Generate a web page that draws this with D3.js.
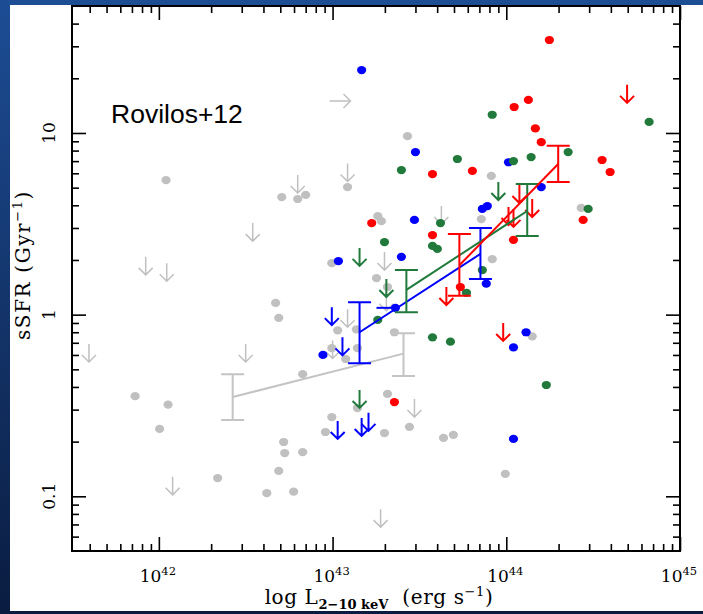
<!DOCTYPE html>
<html><head><meta charset="utf-8">
<script src="https://cdn.jsdelivr.net/npm/d3@7"></script>
<style>html,body{margin:0;padding:0;background:#fff;} svg{display:block}</style>
</head><body><svg id="c" width="703" height="614"></svg>
<script>
// ---- data: [L_2-10keV (erg/s), sSFR (Gyr^-1)] ----
const grayDots = [[1.10e42,5.5],[4.7e42,1.16],[4.9e42,0.96],[5.1e42,4.44],[6.3e42,4.33],[7.0e42,4.56],
 [7.3e41,0.356],[1.13e42,0.32],[1.01e42,0.235],[2.18e42,0.126],[4.18e42,0.104],[5.97e42,0.106],
 [4.9e42,0.138],[5.23e42,0.199],[5.3e42,0.173],[6.73e42,0.175],[9.1e42,0.226],[9.9e42,0.273],
 [6.73e42,0.47],[9.9e42,1.92],[1.07e43,0.82],[1.37e43,0.83],[9.9e42,0.655],[1.39e43,0.655],
 [1.19e43,0.57],[1.39e43,0.306],[1.79e43,1.59],[2.27e43,0.80],[2.07e43,0.366],[1.99e43,0.223],
 [2.77e43,0.241],[4.35e43,0.21],[4.96e43,0.218],[2.70e43,9.6],[1.22e43,5.04],[1.82e43,3.49],
 [1.91e43,3.27],[7.18e43,3.36],[8.2e43,5.8],[8.3e43,2.02],[1.41e44,0.76],[2.70e44,3.87],
 [9.87e43,0.133],[2.07e43,1.42]];
const grayLimits = [[3.96e41,0.69],[8.4e41,2.08],[1.11e42,1.92],[3.16e42,0.69],[1.2e42,0.128],
 [3.47e42,3.19],[6.3e42,5.87],[1.22e43,6.8],[4.23e43,3.96],[1.99e43,2.21],[1.22e43,1.07],
 [1.0e43,0.72],[2.96e43,0.343],[1.89e43,0.085],[2.04e43,1.32]];
const grayLowerL = [[9.6e42,15.0]];
const blueDots = [[1.47e43,22.2],[3.0e43,7.85],[2.96e43,3.32],[2.49e43,2.08],[1.08e43,1.97],
 [8.8e42,0.60],[2.30e43,1.09],[1.03e44,6.9],[1.59e44,5.04],[7.28e43,3.82],[7.78e43,3.96],
 [7.67e43,1.48],[1.30e44,0.80],[1.10e44,0.66],[1.10e44,0.207]];
const blueLimits = [[9.9e42,1.10],[1.14e43,0.75],[1.07e43,0.26],[1.47e43,0.27],[1.61e43,0.288]];
const blueBar = [[1.79e43,2.30e43,1.09]];
const greenDots = [[8.3e43,12.6],[2.49e43,6.25],[5.23e43,7.19],[1.39e44,7.37],[1.10e44,7.0],
 [2.27e44,7.85],[6.64e44,11.5],[2.96e44,3.82],[1.99e43,2.51],[3.76e43,2.39],[4.01e43,2.30],
 [4.18e43,3.19],[1.82e43,0.935],[3.76e43,0.75],[4.77e43,0.71],[1.70e44,0.41],[7.28e43,1.76],
 [5.9e43,1.32]];
const greenLimits = [[1.43e43,2.33],[2.04e43,1.57],[1.43e43,0.385],[9.0e43,5.37]];
const redDots = [[1.77e44,32.5],[1.34e44,15.2],[1.11e44,13.9],[1.47e44,10.6],[1.59e44,8.9],
 [6.38e43,6.18],[3.56e44,7.1],[3.96e44,6.1],[3.76e43,5.94],[1.68e43,3.19],[3.76e43,2.74],
 [1.10e44,2.58],[2.77e44,3.32],[5.44e43,1.42],[2.27e43,0.33]];
const redLimits = [[4.96e44,18.4],[1.19e44,5.17],[1.41e44,4.33],[1.03e44,3.91],[1.10e44,3.82],
 [4.52e43,1.42],[9.6e43,0.90]];
// binned means: [L, mean, low, high]
const grayBins  = [[2.66e42,0.352,0.263,0.47],[2.56e43,0.61,0.46,0.79]];
const blueBins  = [[1.43e43,0.80,0.54,1.17],[7.1e43,2.16,1.57,3.0]];
const greenBins = [[2.66e43,1.37,1.03,1.76],[1.32e44,3.72,2.71,5.24]];
const redBins   = [[5.37e43,1.87,1.27,2.78],[1.99e44,6.75,5.37,8.5]];
const xMajor = [1e42,1e43,1e44,1e45];
const xMajorLabels = ["42","43","44","45"];
const yMajor = [0.1,1,10];
const yMajorLabels = ["0.1","1","10"];

// ---- layout ----
const W=703,H=614, L=72, R=680, T=6, B=551;
const svg=d3.select('#c');
const defs=svg.append('defs');
const gr=defs.append('linearGradient').attr('id','bg').attr('x1',0).attr('y1',0).attr('x2',0).attr('y2',1);
gr.append('stop').attr('offset','0%').attr('stop-color','#1d4d95');
gr.append('stop').attr('offset','100%').attr('stop-color','#0a1c40');
svg.append('rect').attr('width',W).attr('height',H).attr('fill','url(#bg)');
svg.append('rect').attr('x',10).attr('y',5).attr('width',W-10).attr('height',606).attr('fill','#fff');

const x=d3.scaleLog().domain([Math.pow(10,41.5),1e45]).range([L,R]);
const y=d3.scaleLog().domain([0.05,50]).range([B,T]);

const minor=(dom)=>{const out=[];const lo=Math.floor(Math.log10(dom[0])),hi=Math.ceil(Math.log10(dom[1]));
 for(let e=lo;e<hi;e++)for(let k=2;k<=9;k++){const v=k*Math.pow(10,e);if(v>dom[0]&&v<dom[1])out.push(v);}return out;};
const xMinor=minor(x.domain()), yMinor=minor(y.domain());

const axG=svg.append('g').attr('stroke','#000');
function ax(gen,tr,vals,size){
  const g=axG.append('g').attr('transform',tr).call(gen.tickValues(vals).tickSize(size).tickFormat('').tickSizeOuter(0));
  g.select('.domain').remove();
  g.selectAll('line').attr('stroke','#000').attr('stroke-width',1.6);
}
ax(d3.axisBottom(x),`translate(0,${B})`,xMinor,-7);
ax(d3.axisBottom(x),`translate(0,${B})`,xMajor,-14);
ax(d3.axisTop(x),`translate(0,${T})`,xMinor,-7);
ax(d3.axisTop(x),`translate(0,${T})`,xMajor,-14);
ax(d3.axisLeft(y),`translate(${L},0)`,yMinor,-7);
ax(d3.axisLeft(y),`translate(${L},0)`,yMajor,-14);
ax(d3.axisRight(y),`translate(${R},0)`,yMinor,-7);
ax(d3.axisRight(y),`translate(${R},0)`,yMajor,-14);
svg.append('rect').attr('x',L).attr('y',T).attr('width',R-L).attr('height',B-T)
  .attr('fill','none').attr('stroke','#000').attr('stroke-width',2);

// tick labels
const serif="'DejaVu Serif','Liberation Serif',serif";
xMajor.forEach((v,i)=>{
  const t=svg.append('text').attr('x',x(v)-1).attr('y',582).attr('text-anchor','middle')
   .attr('font-family',serif).attr('font-size',17).attr('fill','#000');
  t.append('tspan').text('10');
  t.append('tspan').attr('dy',-7).attr('font-size',11.5).text(xMajorLabels[i]);
});
yMajor.forEach((v,i)=>{
  svg.append('text').attr('transform',`translate(55,${y(v)}) rotate(-90)`).attr('text-anchor','middle')
   .attr('font-family',serif).attr('font-size',17).attr('fill','#000').text(yMajorLabels[i]);
});
// axis titles
const xt=svg.append('text').attr('x',379).attr('y',604).attr('text-anchor','middle')
  .attr('font-family',serif).attr('font-size',20).attr('letter-spacing',0.6).attr('fill','#000');
xt.append('tspan').text('log L');
xt.append('tspan').attr('dy',5).attr('font-size',13).attr('font-weight','bold').attr('letter-spacing',0).text('2−10 keV');
xt.append('tspan').attr('dy',-5).text('\u00a0 (erg s');
xt.append('tspan').attr('dy',-8).attr('font-size',13).text('−1');
xt.append('tspan').attr('dy',8).text(')');
const yt=svg.append('text').attr('transform',`translate(30,265) rotate(-90)`).attr('text-anchor','middle')
  .attr('font-family',serif).attr('font-size',20).attr('letter-spacing',1.6).attr('fill','#000');
yt.append('tspan').text('sSFR (Gyr');
yt.append('tspan').attr('dy',-8).attr('font-size',13).text('−1');
yt.append('tspan').attr('dy',8).text(')');

svg.append('text').attr('x',111).attr('y',123).attr('font-family',"'Liberation Sans',Arial,sans-serif")
  .attr('font-size',26.5).attr('fill','#000').text('Rovilos+12');

// ---- marks ----
const P=svg.append('g');
function dots(data,col){P.append('g').selectAll('ellipse').data(data).join('ellipse')
  .attr('cx',d=>x(d[0])).attr('cy',d=>y(d[1])).attr('rx',4.6).attr('ry',4.1).attr('fill',col);}
function limits(data,col,w){P.append('g').selectAll('path').data(data).join('path')
  .attr('d',d=>{const cx=x(d[0]),cy=y(d[1]);return `M${cx},${cy}v18M${cx-7},${cy+11}L${cx},${cy+18}L${cx+7},${cy+11}`;})
  .attr('fill','none').attr('stroke',col).attr('stroke-width',w);}
function rlimits(data,col,w){P.append('g').selectAll('path').data(data).join('path')
  .attr('d',d=>{const cx=x(d[0]),cy=y(d[1]);return `M${cx},${cy}h21M${cx+14},${cy-7}L${cx+21},${cy}L${cx+14},${cy+7}`;})
  .attr('fill','none').attr('stroke',col).attr('stroke-width',w);}
function bins(data,col){
  const g=P.append('g').attr('fill','none').attr('stroke',col).attr('stroke-width',2);
  g.append('path').attr('d',d3.line().x(d=>x(d[0])).y(d=>y(d[1]))(data));
  data.forEach(d=>{const cx=x(d[0]);
    g.append('path').attr('d',`M${cx},${y(d[2])}V${y(d[3])}M${cx-11.5},${y(d[2])}h23M${cx-11.5},${y(d[3])}h23`);});
}
const GRAY='#c0c0c0', BLUE='#0000ff', GREEN='#217a3c', RED='#ff0000';
dots(grayDots,GRAY); limits(grayLimits,GRAY,1.5); rlimits(grayLowerL,GRAY,1.5); bins(grayBins,'#c4c4c4');
dots(blueDots,BLUE); limits(blueLimits,BLUE,2);
P.append('g').selectAll('line').data(blueBar).join('line').attr('x1',d=>x(d[0])).attr('x2',d=>x(d[1]))
  .attr('y1',d=>y(d[2])).attr('y2',d=>y(d[2])).attr('stroke',BLUE).attr('stroke-width',2);
dots(greenDots,GREEN); limits(greenLimits,GREEN,2);
dots(redDots,RED); limits(redLimits,RED,2);
bins(blueBins,BLUE); bins(greenBins,GREEN); bins(redBins,RED);
</script></body></html>
